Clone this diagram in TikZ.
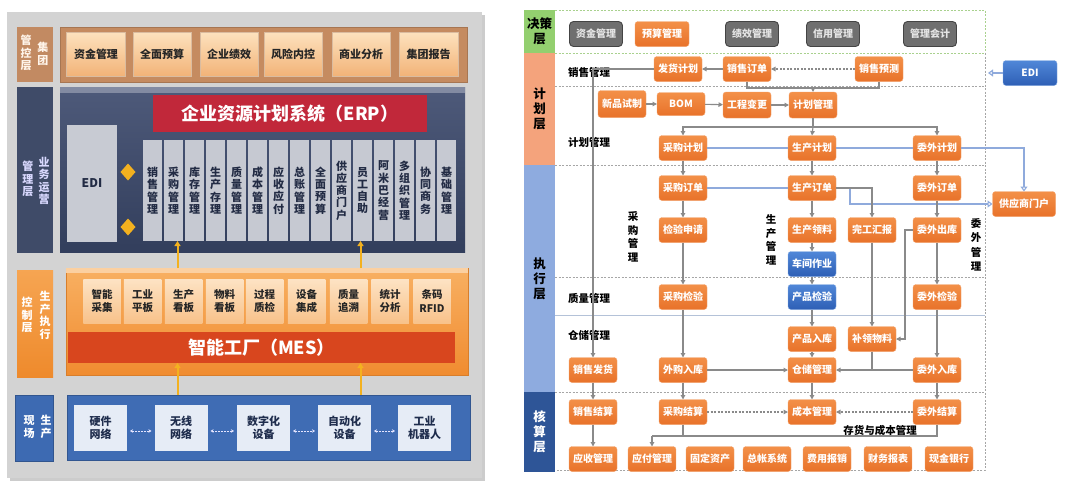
\documentclass[tikz,border=0pt]{standalone}
\usepackage{fontspec}
\setmainfont{Noto Sans CJK SC}
\usetikzlibrary{arrows.meta,shapes.geometric}
\definecolor{panel}{HTML}{D3D3D3}
\definecolor{rlab}{HTML}{C28A62}
\definecolor{rbox}{HTML}{C58B60}
\definecolor{pbtop}{HTML}{FDE2BE}
\definecolor{pbbot}{HTML}{F2B378}
\definecolor{slab}{HTML}{3F4B68}
\definecolor{sboxt}{HTML}{4E5A7A}
\definecolor{sboxb}{HTML}{323E5C}
\definecolor{erpred}{HTML}{C1283A}
\definecolor{edig}{HTML}{C8CBD3}
\definecolor{colg}{HTML}{C6C9D2}
\definecolor{coltx}{HTML}{222B44}
\definecolor{olabt}{HTML}{F6A552}
\definecolor{olabb}{HTML}{EE8A2C}
\definecolor{oboxt}{HTML}{F8B062}
\definecolor{oboxb}{HTML}{F08C30}
\definecolor{mbt}{HTML}{FDE3C4}
\definecolor{mbb}{HTML}{F8C28A}
\definecolor{mesred}{HTML}{D8461E}
\definecolor{blab}{HTML}{3D6AB2}
\definecolor{bbox}{HTML}{3F6CB4}
\definecolor{fbox}{HTML}{E6ECF6}
\definecolor{fbtx}{HTML}{1F2D4D}
\definecolor{gold}{HTML}{F3B11F}
\definecolor{ortop}{HTML}{F39048}
\definecolor{orbot}{HTML}{E8722A}
\definecolor{ordraw}{HTML}{F4A36C}
\definecolor{bltop}{HTML}{5087D8}
\definecolor{blbot}{HTML}{2E5FB5}
\definecolor{gyfill}{HTML}{6F6F6F}
\definecolor{gydraw}{HTML}{444444}
\definecolor{arrg}{HTML}{8A8A8A}
\definecolor{ltblue}{HTML}{8FAADC}
\definecolor{bandg}{HTML}{93CF6F}
\definecolor{bands}{HTML}{F4A37C}
\definecolor{bandb}{HTML}{8EABDF}
\definecolor{bandd}{HTML}{2E5597}
\definecolor{sepg}{HTML}{A6A6A6}
\definecolor{sepgreen}{HTML}{A9D18E}
\definecolor{sepblue}{HTML}{B4C2D8}
\begin{document}
\begin{tikzpicture}[x=1pt,y=-1pt,
  every node/.style={inner sep=0pt,outer sep=0pt},
  labt/.style={align=center,font=\bfseries\fontsize{11}{12.5}\selectfont},
  pbox/.style={top color=pbtop,bottom color=pbbot,draw=pbbot!80!black!60,line width=0.3pt,text=black!85,font=\bfseries\fontsize{11}{12}\selectfont,minimum height=44},
  colbox/.style={fill=colg,minimum width=19,minimum height=101,align=center,text=coltx,font=\bfseries\fontsize{11}{12.3}\selectfont},
  mbox/.style={top color=mbt,bottom color=mbb,minimum width=37.5,minimum height=44,align=center,text=black!85,font=\bfseries\fontsize{10.5}{13.5}\selectfont},
  fbx/.style={fill=fbox,minimum width=53,minimum height=46,align=center,text=fbtx,font=\bfseries\fontsize{11}{13}\selectfont},
  goldarr/.style={draw=gold,line width=2pt,-{Triangle[length=5pt,width=6pt]}},
  wdarr/.style={draw=white!90!blue,line width=0.8pt,dash pattern=on 2pt off 1pt,{Stealth[length=3pt,width=3.5pt]}-{Stealth[length=3pt,width=3.5pt]},shorten <=3pt,shorten >=3pt},
  on/.style={rounded corners=3pt,top color=ortop,bottom color=orbot,draw=ordraw,line width=0.4pt,text=white,font=\bfseries\fontsize{10}{11}\selectfont,minimum width=48,minimum height=25},
  bn/.style={rounded corners=3pt,top color=bltop,bottom color=blbot,draw=bltop!70!white,line width=0.4pt,text=white,font=\bfseries\fontsize{10}{11}\selectfont,minimum width=48,minimum height=25},
  gn/.style={rounded corners=4pt,fill=gyfill,draw=gydraw,line width=0.9pt,text=white!90!black,font=\bfseries\fontsize{10}{11}\selectfont,minimum width=53,minimum height=25},
  band/.style={minimum width=31,align=center,font=\bfseries\fontsize{12.5}{15}\selectfont},
  rlabel/.style={font=\bfseries\fontsize{10.5}{12}\selectfont,text=black},
  vlabel/.style={align=center,font=\bfseries\fontsize{10.5}{13.5}\selectfont,text=black},
  ar/.style={draw=arrg,line width=1.1pt,-{Triangle[length=4.5pt,width=4.5pt]}},
  ln/.style={draw=arrg,line width=1.1pt},
  dar/.style={draw=arrg,line width=1.1pt,dash pattern=on 2pt off 1.5pt,-{Triangle[length=4.5pt,width=4.5pt]}},
  blar/.style={draw=ltblue,line width=1.1pt,-{Triangle[open,length=5pt,width=7pt]}},
  blln/.style={draw=ltblue,line width=1.1pt},
  sep/.style={draw=sepg,line width=0.7pt,dash pattern=on 2pt off 1.5pt}
]
\useasboundingbox (0,0) rectangle (1080,485);
\fill[white] (0,0) rectangle (1080,485);

%================ LEFT DIAGRAM =================
\fill[black!20] (10,15) rectangle (485,481);
\fill[panel] (7,12) rectangle (482,478);

% Row 1
\node[fill=rlab,minimum width=36,minimum height=55] (L1) at (35,54.5) {};
\node[labt,text=white!92!orange] (L1a) at (43,54) {集\\团};
\node[labt,text=white!92!orange] (L1b) at (26,53) {管\\控\\层};
\node[fill=rbox,draw=rbox!85!black,minimum width=407,minimum height=55] (C1) at (263.5,54.5) {};
\node[pbox,minimum width=59] (p1) at (96,54) {资金管理};
\node[pbox,minimum width=58] (p2) at (162,54) {全面预算};
\node[pbox,minimum width=58] (p3) at (229,54) {企业绩效};
\node[pbox,minimum width=58] (p4) at (293,54) {风险内控};
\node[pbox,minimum width=58] (p5) at (361,54) {商业分析};
\node[pbox,minimum width=59] (p6) at (428.5,54) {集团报告};

% Row 2
\node[fill=slab,minimum width=36,minimum height=166] (L2) at (35,170) {};
\node[labt,text=white!85!blue] (L2a) at (44,181) {业\\务\\运\\营};
\node[labt,text=white!85!blue] (L2b) at (28,179) {管\\理\\层};
\node[top color=sboxt,bottom color=sboxb,minimum width=405,minimum height=165] (C2) at (262.5,169.5) {};
\fill[sboxt!70!white] (C2.north west) rectangle ([yshift=-6pt]C2.north east);
\node[fill=erpred,minimum width=274,minimum height=37,text=white,font=\bfseries\fontsize{18}{20}\selectfont] (ERP) at (290,113.5) {企业资源计划系统（ERP）};
\node[fill=edig,minimum width=50,minimum height=117,text=coltx,font=\bfseries\fontsize{12}{13}\selectfont] (EDIL) at (92,183.5) {EDI};
\node[diamond,fill=gold,minimum width=15,minimum height=17] (dm1) at (128,172) {};
\node[diamond,fill=gold,minimum width=15,minimum height=17] (dm2) at (128,227) {};
\foreach \t [count=\i from 0] in {销\\售\\管\\理,采\\购\\管\\理,库\\存\\管\\理,生\\产\\存\\理,质\\量\\管\\理,成\\本\\管\\理,应\\收\\应\\付,总\\账\\管\\理,全\\面\\预\\算,供\\应\\商\\门\\户,员\\工\\自\\助,阿\\米\\巴\\经\\营,多\\组\\织\\管\\理,协\\同\\商\\务,基\\础\\管\\理}{
  \node[colbox] (col\i) at (152.5+21*\i,190.5) {\t};
}

% Row 3
\node[top color=olabt,bottom color=olabb,minimum width=36,minimum height=107] (L3) at (35,323.5) {};
\node[labt,text=white] (L3a) at (45,315.5) {生\\产\\执\\行};
\node[labt,text=white] (L3b) at (27,315) {控\\制\\层};
\node[top color=oboxt,bottom color=oboxb,draw=oboxb!90!black,minimum width=402,minimum height=107] (C3) at (267,321.5) {};
\fill[oboxt!60!white] (C3.north west) rectangle ([yshift=-5pt]C3.north east);
\node[mbox] (m1) at (102,301) {智能\\采集};
\node[mbox] (m2) at (142.5,301) {工业\\平板};
\node[mbox] (m3) at (183.5,301) {生产\\看板};
\node[mbox] (m4) at (224.5,301) {物料\\看板};
\node[mbox] (m5) at (264.5,301) {过程\\质检};
\node[mbox] (m6) at (306.5,301) {设备\\集成};
\node[mbox] (m7) at (348.5,301) {质量\\追溯};
\node[mbox] (m8) at (390,301) {统计\\分析};
\node[mbox] (m9) at (432,301) {条码\\RFID};
\node[fill=mesred,minimum width=387,minimum height=31,text=white,font=\bfseries\fontsize{18}{20}\selectfont] (MES) at (261.5,347.5) {智能工厂（MES）};

% Row 4
\node[fill=blab,draw=blab!80!black,minimum width=38,minimum height=66] (L4) at (34,428) {};
\node[labt,text=white] (L4a) at (46,427) {生\\产};
\node[labt,text=white] (L4b) at (29,427) {现\\场};
\node[fill=bbox,draw=bbox!80!black,minimum width=403,minimum height=65] (C4) at (268.5,427.5) {};
\node[fbx] (f1) at (100.5,428) {硬件\\网络};
\node[fbx] (f2) at (181,428) {无线\\网络};
\node[fbx] (f3) at (263.5,428) {数字化\\设备};
\node[fbx] (f4) at (344.5,428) {自动化\\设备};
\node[fbx] (f5) at (424.5,428) {工业\\机器人};
\draw[wdarr] ([yshift=-3pt]f1.east) -- ([yshift=-3pt]f2.west);
\draw[wdarr] ([yshift=-3pt]f2.east) -- ([yshift=-3pt]f3.west);
\draw[wdarr] ([yshift=-3pt]f3.east) -- ([yshift=-3pt]f4.west);
\draw[wdarr] ([yshift=-3pt]f4.east) -- ([yshift=-3pt]f5.west);

% gold arrows
\draw[goldarr] ([xshift=4pt]col1.south |- C3.north) -- ([xshift=4pt]col1.south);
\draw[goldarr] ([xshift=-2pt]col10.south |- C3.north) -- ([xshift=-2pt]col10.south);
\draw[goldarr] ([xshift=4pt]col1.south |- C4.north) -- ([xshift=4pt]col1.south |- MES.south);
\draw[goldarr] ([xshift=-2pt]col10.south |- C4.north) -- ([xshift=-2pt]col10.south |- MES.south);

%================ RIGHT DIAGRAM =================
% bands
\node[band,fill=bandg,minimum height=43,text=black] (B1) at (539.5,31.5) {决策\\层};
\node[band,fill=bands,minimum height=112,text=black] (B2) at (539.5,109) {计\\划\\层};
\node[band,fill=bandb,minimum height=227,text=black] (B3) at (539.5,278.5) {执\\行\\层};
\node[band,fill=bandd,minimum height=80,text=white] (B4) at (539.5,432) {核\\算\\层};

% separators
\draw[draw=sepgreen,line width=0.8pt,dash pattern=on 2pt off 1.5pt] (555,10) -- (985,10) -- (985,53);
\draw[draw=sepgreen,line width=0.8pt,dash pattern=on 2pt off 1.5pt] (555,53) -- (985,53);
\draw[sep] (985,53) -- (985,470) -- (555,470);
\draw[sep] (555,86) -- (985,86);
\draw[sep] (555,165) -- (985,165);
\draw[sep] (555,277) -- (985,277);
\draw[draw=sepblue,line width=0.9pt] (555,315) -- (985,315);
\draw[sep] (555,392) -- (985,392);

% labels
\node[rlabel] (lxs) at (589,72) {销售管理};
\node[rlabel] (ljh) at (589,142) {计划管理};
\node[rlabel] (lzl) at (589,298) {质量管理};
\node[rlabel] (lcc) at (589,335) {仓储管理};
\node[vlabel] (lcg) at (633,237) {采\\购\\管\\理};
\node[vlabel] (lsc) at (771,240) {生\\产\\管\\理};
\node[vlabel,font=\bfseries\fontsize{10.5}{14.5}\selectfont] (lww) at (976,245) {委\\外\\管\\理};
\node[rlabel] (lch) at (880,430) {存货与成本管理};

% decision row
\node[gn] (zj) at (596,34) {资金管理};
\node[on,minimum width=54] (ys) at (662,34) {预算管理};
\node[gn] (jx) at (752,34) {绩效管理};
\node[gn] (xy) at (833,34) {信用管理};
\node[gn] (glkj) at (930,34) {管理会计};

% plan
\node[on] (fhjh) at (678,69) {发货计划};
\node[on] (xsdd) at (747,69) {销售订单};
\node[on] (xsyc) at (879,69) {销售预测};
\node[bn,minimum width=54] (edi) at (1030,73) {EDI};
\coordinate (edin) at (988,73);
\node[on,minimum height=27] (xpsz) at (622,104) {新品试制};
\node[on,minimum height=23] (bom) at (681,104) {BOM};
\node[on,minimum height=26] (gcbg) at (747,105) {工程变更};
\node[on,minimum height=26] (jhgl) at (813,105) {计划管理};
\node[on] (cgjh) at (683,148) {采购计划};
\node[on] (scjh) at (812,148) {生产计划};
\node[on] (wwjh) at (937,148) {委外计划};

% execution
\node[on] (cgdd) at (683,188) {采购订单};
\node[on] (scdd) at (812,188) {生产订单};
\node[on] (wwdd) at (937,188) {委外订单};
\node[on,minimum width=63] (gys) at (1024,204) {供应商门户};
\node[on] (jysq) at (683,230) {检验申请};
\node[on] (scll) at (812,230) {生产领料};
\node[on] (wghb) at (872,230) {完工汇报};
\node[on] (wwck) at (937,230) {委外出库};
\node[bn] (cjzy) at (812,264) {车间作业};
\node[on] (cgjy) at (683,297) {采购检验};
\node[bn] (cpjy) at (812,297) {产品检验};
\node[on] (wwjy) at (937,297) {委外检验};
\node[on] (cprk) at (812,339) {产品入库};
\node[on] (blwl) at (872,339) {补领物料};
\node[on] (xsfh) at (593,370) {销售发货};
\node[on] (wgrk) at (683,370) {外购入库};
\node[on] (ccgl) at (812,370) {仓储管理};
\node[on] (wwrk) at (937,370) {委外入库};

% accounting
\node[on] (xsjs) at (593,412) {销售结算};
\node[on] (cgjs) at (683,412) {采购结算};
\node[on] (cbgl) at (812,412) {成本管理};
\node[on] (wwjs) at (937,412) {委外结算};
\node[on] (ysgl) at (593,459) {应收管理};
\node[on] (yfgl) at (652,459) {应付管理};
\node[on] (gdzc) at (710,459) {固定资产};
\node[on] (zzxt) at (767,459) {总帐系统};
\node[on] (fybx) at (827,459) {费用报销};
\node[on] (cwbb) at (888,459) {财务报表};
\node[on] (xjyh) at (949,459) {现金银行};

% connectors: plan
\draw[ar] (xsdd) -- (fhjh);
\draw[dar] (xsyc) -- (xsdd);
\draw[blar] (edi) -- (edin);
\draw[ar] (fhjh.west) -| (xsfh.north);
\coordinate (mg) at (813,88);
\draw[ln] (xsdd.south) |- (mg);
\draw[ln] (xsyc.south) |- (mg);
\draw[ar] (mg) -- (jhgl.north);
\draw[ar] (xpsz) -- (bom);
\draw[ar] (bom) -- (gcbg);
\draw[ar] (gcbg) -- (jhgl);
\coordinate (sp) at (813,127);
\draw[ln] (jhgl.south) -- (sp);
\draw[ar] (sp) -| (cgjh.north);
\draw[ar] (sp) -| (wwjh.north);
\draw[ar] (sp) -- (scjh.north);

% light blue lines
\draw[blln] (cgjh) -- (scjh);
\draw[blln] (scjh) -- (wwjh);
\draw[blar] (wwjh.east) -| (gys.north);
\draw[blln] (cgdd) -- (scdd);
\coordinate (bk) at (850,188);
\draw[blar] (scdd.east) -- (bk) |- (gys.west);

% execution arrows
\draw[ar] (cgjh) -- (cgdd);
\draw[ar] (scjh) -- (scdd);
\draw[ar] (wwjh) -- (wwdd);
\draw[ar] (cgdd) -- (jysq);
\draw[ar] (scdd) -- (scll);
\draw[ar] (scdd.east) -| (wghb.north);
\draw[ar] (wwdd) -- (wwck);
\draw[ar] (jysq) -- (cgjy);
\draw[ar] (scll) -- (cjzy);
\draw[ar] (cjzy) -- (cpjy);
\draw[ar] (wwck) -- (wwjy);
\draw[ar] (cgjy) -- (wgrk);
\draw[ar] (cpjy) -- (cprk);
\draw[ar] (wghb) -- (blwl);
\coordinate (wc) at (905,230);
\draw[ar] (wwck.west) -- (wc) |- (blwl.east);
\draw[ar] (wwjy) -- (wwrk);
\draw[ar] (cprk) -- (ccgl);
\draw[ar] (wgrk) -- (ccgl);
\draw[ar] (wwrk) -- (ccgl);
\draw[ln] (blwl.south) -- (blwl.south |- ccgl.east);

% accounting arrows
\draw[ar] (xsfh) -- (xsjs);
\draw[ar] (xsjs) -- (ysgl);
\draw[ar] (wgrk) -- (cgjs);
\draw[ar] (ccgl) -- (cbgl);
\draw[ar] (wwrk) -- (wwjs);
\draw[dar] (cgjs) -- (cbgl);
\draw[dar] (wwjs) -- (cbgl);
\coordinate (pj) at (652,436);
\draw[ln] (cgjs.south) -- (cgjs.south |- pj);
\draw[ln] (wwjs.south) |- (pj);
\draw[ar] (pj) -- (yfgl.north);
\end{tikzpicture}
\end{document}
